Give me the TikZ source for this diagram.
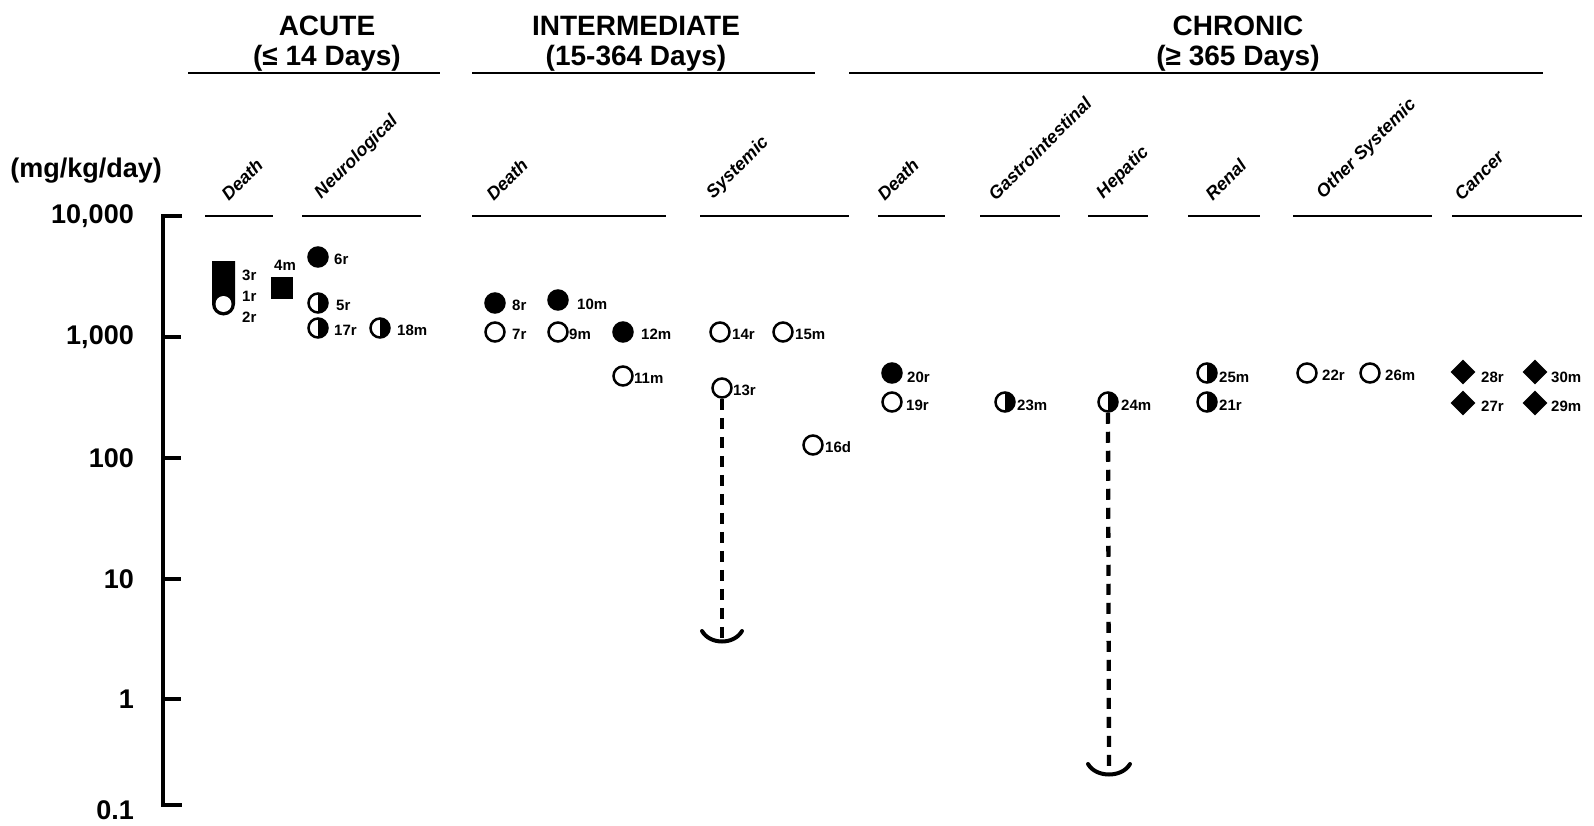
\documentclass[tikz,border=0pt]{standalone}
\usepackage{fontspec}
\setmainfont{Liberation Sans}
\usetikzlibrary{shapes.geometric}
\begin{document}
\begin{tikzpicture}[x=1pt,y=-1pt,
  mk/.style={circle, draw=black, line width=2.5pt, minimum size=19pt, inner sep=0pt},
  mopen/.style={mk, fill=white},
  mfull/.style={mk, fill=black},
  mhalf/.style={mk, fill=white, path picture={\fill[black] (path picture bounding box.north) rectangle (path picture bounding box.south east);}},
  mdia/.style={diamond, fill=black, minimum size=25pt, inner sep=0pt},
  msq/.style={rectangle, fill=black, minimum size=22pt, inner sep=0pt},
  lbl/.style={font=\bfseries\fontsize{15}{15}\selectfont, anchor=west, inner sep=0pt},
  cat/.style={font=\bfseries\itshape\fontsize{18}{18}\selectfont, rotate=45, anchor=south west, inner sep=0pt},
  hdr/.style={font=\bfseries\fontsize{28}{28}\selectfont, inner sep=0pt},
  axl/.style={font=\bfseries\fontsize{27}{27}\selectfont, anchor=east, inner sep=0pt},
  uline/.style={line width=2.3pt},
  axline/.style={line width=3.8pt},
  conn/.style={line width=4.3pt, dash pattern=on 11pt off 8pt},
  cup/.style={line width=4pt, line cap=round}
]
\useasboundingbox (0,0) rectangle (1594,826);

% headers
\node[hdr] (hA1) at (327,26) {ACUTE};
\node[hdr] (hA2) at (327,58) {(≤ 14 Days)};
\node[hdr] (hI1) at (636,26) {INTERMEDIATE};
\node[hdr] (hI2) at (636,58) {(15-364 Days)};
\node[hdr] (hC1) at (1238,26) {CHRONIC};
\node[hdr] (hC2) at (1238,58) {(≥ 365 Days)};
\draw[uline] (188,73) -- (440,73);
\draw[uline] (472,73) -- (815,73);
\draw[uline] (849,73) -- (1543,73);

% category underlines
\foreach \a/\b in {205/273,302/421,472/666,700/849,878/945,980/1060,1088/1148,1188/1260,1293/1432,1452/1582}
  \draw[uline] (\a,216) -- (\b,216);

% category labels
\node[cat] (c1) at (229,202) {Death};
\node[cat] (c2) at (324,202) {Neurological};
\node[cat] (c3) at (494,202) {Death};
\node[cat] (c4) at (716,202) {Systemic};
\node[cat] (c5) at (885,202) {Death};
\node[cat] (c6) at (996,202) {Gastrointestinal};
\node[cat] (c7) at (1106,202) {Hepatic};
\node[cat] (c8) at (1213,202) {Renal};
\node[cat] (c9) at (1326,202) {Other Systemic};
\node[cat] (c10) at (1462,202) {Cancer};

% axis
\node[axl] (unit) at (162,171) {(mg/kg/day)};
\draw[axline] (182,216) -- (163,216) -- (163,805) -- (182,805);
\foreach \y in {337,458,579,699} \draw[axline] (163,\y) -- (181,\y);
\node[axl] (y1) at (134,216) {10,000};
\node[axl] (y2) at (134,337) {1,000};
\node[axl] (y3) at (134,458) {100};
\node[axl] (y4) at (134,579) {10};
\node[axl] (y5) at (134,699) {1};
\node[axl] (y6) at (134,810) {0.1};

% acute death stacked marker
\fill[black] (212,261) -- (235,261) -- (235,304) arc[start angle=0, end angle=-180, radius=11.5pt] -- cycle;
\node[circle, fill=white, minimum size=16pt, inner sep=0pt] (p2) at (223.5,304) {};
\node[lbl] (l3) at (242,275) {3r};
\node[lbl] (l1) at (242,296) {1r};
\node[lbl] (l2) at (242,317) {2r};
\node[msq] (p4) at (282,288) {};
\node[lbl, anchor=center] (l4) at (285,265) {4m};

% acute neuro
\node[mfull] (p6) at (318,257) {}; \node[lbl] at (334,259) {6r};
\node[mhalf] (p5) at (318,303) {}; \node[lbl] at (336,305) {5r};
\node[mhalf] (p17) at (318,328) {}; \node[lbl] at (334,330) {17r};
\node[mhalf] (p18) at (380,328) {}; \node[lbl] at (397,330) {18m};

% intermediate
\node[mfull] (p8) at (495,303) {}; \node[lbl] at (512,305) {8r};
\node[mfull] (p10) at (558,300) {}; \node[lbl] at (577,304) {10m};
\node[mopen] (p7) at (495,332) {}; \node[lbl] at (512,334) {7r};
\node[mopen] (p9) at (558,332) {}; \node[lbl] at (569,334) {9m};
\node[mfull] (p12) at (623,332) {}; \node[lbl] at (641,334) {12m};
\node[mopen] (p14) at (720,332) {}; \node[lbl] at (732,334) {14r};
\node[mopen] (p15) at (783,332) {}; \node[lbl] at (795,334) {15m};
\node[mopen] (p11) at (623,376) {}; \node[lbl] at (634,378) {11m};
\node[mopen] (p13) at (722,388) {}; \node[lbl] at (733,390) {13r};
\node[mopen] (p16) at (813,445) {}; \node[lbl] at (825,447) {16d};

% chronic
\node[mfull] (p20) at (892,373) {}; \node[lbl] at (907,377) {20r};
\node[mopen] (p19) at (892,402) {}; \node[lbl] at (906,405) {19r};
\node[mhalf] (p23) at (1005,402) {}; \node[lbl] at (1017,405) {23m};
\node[mhalf] (p24) at (1108,402) {}; \node[lbl] at (1121,405) {24m};
\node[mhalf] (p25) at (1207,373) {}; \node[lbl] at (1219,377) {25m};
\node[mhalf] (p21) at (1207,402) {}; \node[lbl] at (1219,405) {21r};
\node[mopen] (p22) at (1307,373) {}; \node[lbl] at (1322,375) {22r};
\node[mopen] (p26) at (1370,373) {}; \node[lbl] at (1385,375) {26m};
\node[mdia] (p28) at (1463,372) {}; \node[lbl] at (1481,377) {28r};
\node[mdia] (p30) at (1535,372) {}; \node[lbl] at (1551,377) {30m};
\node[mdia] (p27) at (1463,403) {}; \node[lbl] at (1481,406) {27r};
\node[mdia] (p29) at (1535,403) {}; \node[lbl] at (1551,406) {29m};

% dashed extensions
\coordinate (e13) at (722,642);
\coordinate (e24) at (1109,775);
\draw[conn] (p13.south) -- (e13);
\draw[conn] (p24.south) -- (e24);
\draw[cup] (702,631) .. controls (710,645) and (734,645) .. (742,631);
\draw[cup] (1088,764) .. controls (1096,778) and (1122,778) .. (1130,764);
\end{tikzpicture}
\end{document}
